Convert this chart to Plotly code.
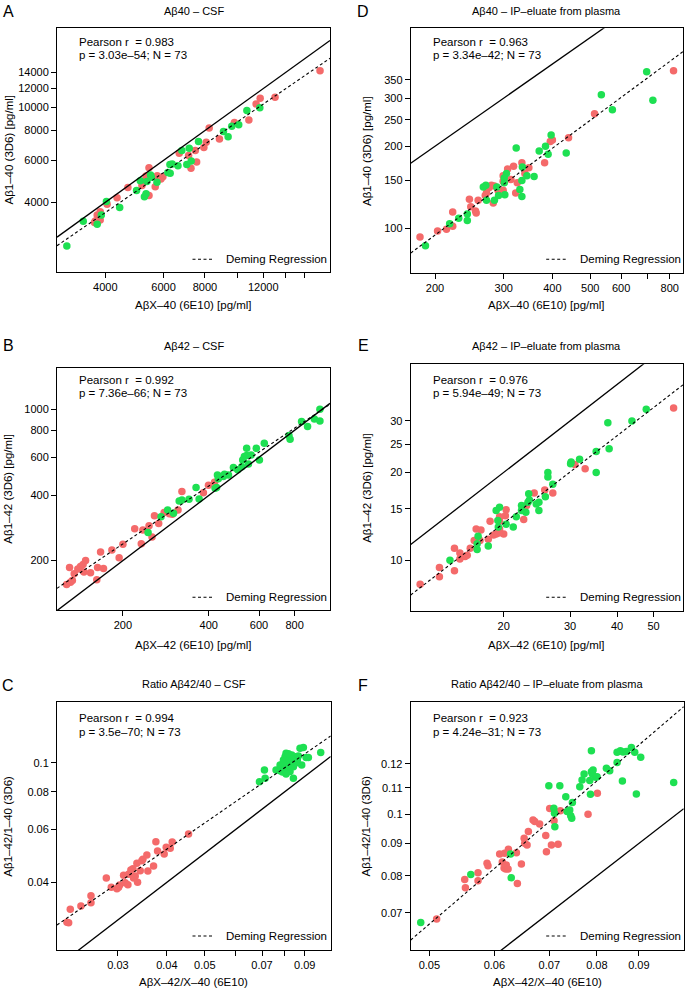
import numpy as np
import plotly.graph_objects as go

W, H = 687, 992
RED = "#F46A6A"
GREEN = "#1EE052"
FONT = "Liberation Sans, Arial, Helvetica, sans-serif"

# ---------------- data ----------------
# Panel A: Abeta40 - CSF
A_red_x = [17820, 13030, 11750, 11420, 10860, 9820, 8240, 8850, 8070, 7940, 7480, 7550, 7260, 7140, 6690, 5970, 5890, 5740, 5660, 5420, 5310, 5420, 5250, 5160, 4680, 4340, 4050, 3860, 3780, 3730, 3860, 3710]
A_red_y = [14260, 11030, 10920, 10350, 8860, 8640, 8200, 7380, 7140, 6800, 6590, 5910, 5560, 6280, 6420, 5120, 5010, 5170, 4650, 5590, 5160, 4270, 4920, 4700, 4610, 4180, 3930, 3650, 3540, 3340, 3370, 3290]
A_green_x = [11720, 10710, 10120, 9640, 9100, 9400, 7650, 7170, 6810, 7270, 7050, 6630, 6370, 6270, 6280, 6180, 5480, 5510, 5100, 5340, 5730, 4970, 5310, 5250, 4420, 4030, 3890, 3780, 3430, 3060]
A_green_y = [9980, 9700, 8470, 8330, 7920, 7540, 7190, 6740, 6590, 5960, 5770, 5700, 5790, 5760, 5290, 5340, 5210, 5090, 4930, 4890, 4850, 4480, 4340, 4220, 3800, 4030, 3540, 3240, 3330, 2620]

# Panel D: Abeta40 - IP-eluate from plasma
D_red_x = [818, 513, 440, 400, 395, 382, 348, 340, 334, 318, 313, 307, 322, 325, 299, 299, 299, 290, 284, 275, 279, 271, 269, 282, 258, 245, 247, 254, 255, 222, 222, 214, 203, 183]
D_red_y = [378, 263, 215, 211, 208, 174, 167, 159, 174, 169, 151, 165, 135, 147, 156, 149, 138, 138, 143, 141, 144, 135, 132, 124, 127, 128, 120, 116, 114, 115, 102, 99.4, 98, 93]
D_green_x = [698, 724, 534, 570, 397, 384, 390, 370, 434, 359, 344, 335, 334, 323, 330, 334, 305, 301, 301, 302, 288, 291, 284, 266, 270, 271, 242, 242, 230, 218, 189]
D_green_y = [375, 295, 309, 272, 220, 200, 187, 192, 189, 155, 156, 168, 150, 197, 139, 131, 159, 153, 147, 133, 142, 132, 127, 142, 144, 127, 113, 107, 109, 104, 86.4]

# Panel B: Abeta42 - CSF
B_red_x = [130, 127, 131, 133, 135, 139, 142, 145, 148, 146, 154, 163, 162, 171, 167, 183, 200, 194, 220, 232, 235, 247, 253, 258, 267, 279, 291, 298, 312, 322, 383, 399, 419]
B_red_y = [186, 155, 159, 162, 174, 183, 188, 192, 200, 177, 176, 186, 163, 184, 219, 224, 238, 206, 281, 239, 277, 290, 257, 322, 297, 334, 329, 327, 343, 417, 412, 446, 460]
B_green_x = [981, 938, 981, 846, 888, 764, 771, 626, 587, 543, 543, 563, 533, 526, 551, 522, 602, 488, 505, 450, 469, 454, 429, 432, 426, 421, 438, 361, 370, 322, 315, 341, 301, 287, 272, 245]
B_green_y = [1000, 902, 883, 877, 832, 756, 727, 697, 661, 661, 611, 615, 605, 583, 559, 543, 583, 538, 525, 489, 497, 501, 497, 478, 435, 432, 489, 435, 385, 381, 377, 384, 331, 343, 319, 270]

# Panel E: Abeta42 - IP-eluate from plasma
E_red_x = [56.5, 32.9, 30.9, 27.0, 25.7, 24.1, 23.0, 22.6, 20.3, 20.2, 20.0, 19.5, 19.5, 19.5, 19.4, 19.1, 18.8, 18.4, 18.2, 17.3, 17.4, 16.9, 16.7, 16.3, 16.0, 15.8, 15.5, 15.3, 15.3, 14.8, 13.5, 13.5, 14.8, 12.0]
E_red_y = [33.2, 20.6, 21.3, 17.0, 17.4, 17.0, 15.4, 13.8, 14.9, 14.2, 12.3, 14.1, 13.6, 12.8, 12.4, 12.3, 12.2, 13.6, 11.8, 11.7, 12.7, 12.8, 11.7, 11.0, 10.4, 10.3, 10.3, 10.1, 10.6, 11.0, 9.46, 8.79, 9.22, 8.28]
E_green_x = [47.8, 43.8, 37.8, 38.1, 35.2, 35.2, 31.8, 30.2, 30.1, 27.0, 26.2, 26.2, 25.8, 24.8, 24.4, 24.8, 23.3, 23.4, 23.2, 22.9, 22.3, 22.3, 21.6, 21.2, 20.3, 19.5, 19.3, 19.35, 19.1, 18.2, 17.1, 17.0, 17.0, 14.4]
E_green_y = [32.9, 30.0, 29.6, 24.1, 23.6, 20.0, 22.2, 21.7, 21.4, 18.2, 20.0, 19.3, 16.5, 15.8, 15.6, 14.8, 16.9, 16.1, 15.8, 14.6, 15.4, 14.8, 14.1, 13.0, 13.3, 15.2, 13.7, 13.0, 14.8, 11.2, 12.1, 10.9, 11.4, 10.0]

# Panel C: Ratio Abeta42/40 - CSF
C_red_x = [0.02245, 0.02223, 0.02267, 0.02413, 0.02560, 0.02560, 0.02802, 0.02885, 0.02982, 0.03030, 0.03101, 0.03131, 0.03181, 0.03193, 0.03276, 0.03289, 0.03321, 0.03354, 0.03367, 0.03420, 0.03453, 0.03474, 0.03556, 0.03577, 0.03699, 0.03750, 0.03787, 0.03938, 0.03985, 0.04080, 0.04128, 0.04544, 0.03237, 0.03012]
C_red_y = [0.02937, 0.02944, 0.03252, 0.03336, 0.03611, 0.03423, 0.04134, 0.03849, 0.03809, 0.03918, 0.04219, 0.03989, 0.03928, 0.04252, 0.04441, 0.04134, 0.04198, 0.04626, 0.04000, 0.04373, 0.04722, 0.04770, 0.04931, 0.04362, 0.04532, 0.05461, 0.05084, 0.04969, 0.05229, 0.05190, 0.05447, 0.05791, 0.04396, 0.03849]
C_green_x = [0.06896, 0.07129, 0.07100, 0.07603, 0.07862, 0.07784, 0.08063, 0.08126, 0.08017, 0.08095, 0.08175, 0.08253, 0.08337, 0.08418, 0.08502, 0.08584, 0.08841, 0.08754, 0.08927, 0.09194, 0.09886, 0.08253, 0.07939, 0.08141, 0.08418, 0.08617, 0.07894, 0.08337, 0.08017, 0.08253, 0.08584, 0.07784, 0.08175, 0.07925, 0.0837, 0.0867, 0.08063, 0.0907]
C_green_y = [0.08645, 0.08869, 0.09454, 0.09454, 0.09650, 0.09406, 0.1074, 0.1034, 0.1008, 0.0982, 0.09454, 0.0934, 0.0995, 0.08869, 0.1047, 0.1047, 0.0982, 0.1116, 0.1124, 0.1041, 0.1080, 0.1021, 0.1021, 0.0970, 0.0970, 0.1021, 0.0931, 0.1060, 0.1047, 0.0970, 0.1000, 0.0982, 0.1070, 0.0995, 0.1026, 0.1052, 0.0917, 0.1041]

# Panel F: Ratio Abeta42/40 - IP-eluate from plasma
F_red_x = [0.05103, 0.05521, 0.05532, 0.05731, 0.05731, 0.05878, 0.05894, 0.06090, 0.06135, 0.06176, 0.06166, 0.06194, 0.06241, 0.06205, 0.06235, 0.06383, 0.06400, 0.06473, 0.06534, 0.06523, 0.06577, 0.06601, 0.06688, 0.06720, 0.06813, 0.06931, 0.06944, 0.07008, 0.07042, 0.07094, 0.07175, 0.07221, 0.07804, 0.08011]
F_red_y = [0.06848, 0.07901, 0.07668, 0.08093, 0.07862, 0.08375, 0.08304, 0.08664, 0.08416, 0.08684, 0.08233, 0.08203, 0.0881, 0.08325, 0.08203, 0.08705, 0.07787, 0.08356, 0.09004, 0.09169, 0.08950, 0.09393, 0.09797, 0.09739, 0.09656, 0.09258, 0.08737, 0.1021, 0.08950, 0.09772, 0.08972, 0.1013, 0.1, 0.1079]
F_green_x = [0.04880, 0.05616, 0.06291, 0.06279, 0.06991, 0.07090, 0.07103, 0.07110, 0.07210, 0.07332, 0.07359, 0.07413, 0.07434, 0.07455, 0.07469, 0.07625, 0.07674, 0.07718, 0.07842, 0.07857, 0.07878, 0.07878, 0.07900, 0.07915, 0.07975, 0.08004, 0.08217, 0.08293, 0.08467, 0.08467, 0.08545, 0.08610, 0.08690, 0.08813, 0.08896, 0.09047, 0.08594, 0.08937, 0.09924]
F_green_y = [0.06759, 0.08045, 0.07949, 0.08664, 0.1109, 0.1022, 0.1004, 0.0956, 0.1109, 0.1066, 0.1010, 0.1016, 0.0995, 0.0986, 0.1044, 0.1105, 0.1132, 0.1157, 0.1130, 0.1075, 0.1167, 0.1258, 0.1157, 0.1174, 0.1143, 0.1146, 0.1181, 0.1171, 0.1206, 0.1252, 0.1258, 0.1253, 0.1255, 0.1274, 0.1252, 0.1229, 0.1128, 0.1076, 0.1122]

# Deming regression (log10 space): log10(y) = intercept + slope*log10(x)
deming_slope = {"A": 0.953, "D": 1.056, "B": 0.888, "E": 0.995, "C": 0.8994, "F": 1.102}
deming_intercept = {"A": 0.1264, "D": -0.454, "B": 0.335, "E": -0.1675, "C": -0.0303, "F": 0.2613}

pearson_r = {"A": "0.983", "D": "0.963", "B": "0.992", "E": "0.976", "C": "0.994", "F": "0.923"}
p_value = {"A": "3.03e–54", "D": "3.34e–42", "B": "7.36e–66", "E": "5.94e–49", "C": "3.5e–70", "F": "4.24e–31"}
n_obs = 73

titles = {"A": "Aβ40 – CSF", "D": "Aβ40 – IP–eluate from plasma",
          "B": "Aβ42 – CSF", "E": "Aβ42 – IP–eluate from plasma",
          "C": "Ratio Aβ42/40 – CSF", "F": "Ratio Aβ42/40 – IP–eluate from plasma"}
xlabels = {"A": "AβX–40 (6E10) [pg/ml]", "D": "AβX–40 (6E10) [pg/ml]",
           "B": "AβX–42 (6E10) [pg/ml]", "E": "AβX–42 (6E10) [pg/ml]",
           "C": "AβX–42/X–40 (6E10)", "F": "AβX–42/X–40 (6E10)"}
ylabels = {"A": "Aβ1–40 (3D6) [pg/ml]", "D": "Aβ1–40 (3D6) [pg/ml]",
           "B": "Aβ1–42 (3D6) [pg/ml]", "E": "Aβ1–42 (3D6) [pg/ml]",
           "C": "Aβ1–42/1–40 (3D6)", "F": "Aβ1–42/1–40 (3D6)"}

x_tickvals = {"A": [4000, 6000, 8000, 10000, 12000, 14000, 16000],
              "D": [200, 300, 400, 500, 600, 700, 800],
              "B": [200, 400, 600, 800],
              "E": [20, 30, 40, 50],
              "C": [0.03, 0.04, 0.05, 0.06, 0.07, 0.08, 0.09],
              "F": [0.05, 0.06, 0.07, 0.08, 0.09]}
x_ticktext = {"A": ["4000", "6000", "8000", "", "12000", "", ""],
              "D": ["200", "300", "400", "500", "600", "", "800"],
              "B": ["200", "400", "600", "800"],
              "E": ["20", "30", "40", "50"],
              "C": ["0.03", "0.04", "0.05", "", "0.07", "", "0.09"],
              "F": ["0.05", "0.06", "0.07", "0.08", "0.09"]}
y_tickvals = {"A": [4000, 6000, 8000, 10000, 12000, 14000],
              "D": [100, 150, 200, 250, 300, 350],
              "B": [200, 400, 600, 800, 1000],
              "E": [10, 15, 20, 25, 30],
              "C": [0.04, 0.06, 0.08, 0.1],
              "F": [0.07, 0.08, 0.09, 0.1, 0.11, 0.12]}
y_ticktext = {"A": ["4000", "6000", "8000", "10000", "12000", "14000"],
              "D": ["100", "150", "200", "250", "300", "350"],
              "B": ["200", "400", "600", "800", "1000"],
              "E": ["10", "15", "20", "25", "30"],
              "C": ["0.04", "0.06", "0.08", "0.1"],
              "F": ["0.07", "0.08", "0.09", "0.1", "0.11", "0.12"]}

data = {"A": (A_red_x, A_red_y, A_green_x, A_green_y),
        "D": (D_red_x, D_red_y, D_green_x, D_green_y),
        "B": (B_red_x, B_red_y, B_green_x, B_green_y),
        "E": (E_red_x, E_red_y, E_green_x, E_green_y),
        "C": (C_red_x, C_red_y, C_green_x, C_green_y),
        "F": (F_red_x, F_red_y, F_green_x, F_green_y)}

# ---------------- layout geometry (pixels) ----------------
order = ["A", "D", "B", "E", "C", "F"]
# log10 axis ranges
xrange_log = {"A": [3.456, 4.281], "D": [2.2386, 2.937], "B": [2.070, 3.027],
              "E": [1.0541, 1.777], "C": [-1.6785, -0.9795], "F": [-1.3238, -0.9911]}
yrange_log = {"A": [3.311, 4.332], "D": [1.837, 2.733], "B": [2.073, 3.189],
              "E": [0.8276, 1.671], "C": [-1.623, -0.7993], "F": [-1.2132, -0.824]}
# plot boxes: left, right, top, bottom
box = {"A": (57, 330, 28.3, 271.7), "D": (410.7, 683, 28.3, 273.0),
       "B": (57, 330, 368.3, 610.0), "E": (410.7, 683, 364.3, 610.7),
       "C": (57, 330.7, 702.3, 950.0), "F": (410.7, 683.7, 702.3, 950.0)}
row_of = {"A": 0, "D": 0, "B": 1, "E": 1, "C": 2, "F": 2}
col_of = {"A": 0, "D": 1, "B": 0, "E": 1, "C": 0, "F": 1}
title_y = [11, 346, 684]
letter_y = [12, 345, 685]
letter_x = [8, 363]
stat1_y = [41.7, 380, 718.3]
stat2_y = [55, 393.3, 731.7]
leg_y = [259.3, 597.3, 936]
xlab_y = [305, 645, 981.7]
ylab_x = [8.5, 366.3]


def px(x):
    return x / W


def py(y):
    return 1 - y / H


fig = go.Figure()
layout = dict(width=W, height=H, margin=dict(l=0, r=0, t=0, b=0),
              paper_bgcolor="white", plot_bgcolor="white", showlegend=False,
              font=dict(family=FONT, size=11, color="black"))
annotations = []
shapes = []

for i, k in enumerate(order):
    n = i + 1
    xa = "x" if n == 1 else f"x{n}"
    ya = "y" if n == 1 else f"y{n}"
    l, r, t, b = box[k]
    rx, ry, gx, gy = data[k]

    fig.add_trace(go.Scatter(x=rx, y=ry, mode="markers", xaxis=xa, yaxis=ya,
                             marker=dict(color=RED, size=7.5, line=dict(width=0))))
    fig.add_trace(go.Scatter(x=gx, y=gy, mode="markers", xaxis=xa, yaxis=ya,
                             marker=dict(color=GREEN, size=7.5, line=dict(width=0))))

    lx = np.array(xrange_log[k])
    xs = 10 ** lx
    # identity line
    fig.add_trace(go.Scatter(x=xs, y=xs, mode="lines", xaxis=xa, yaxis=ya,
                             line=dict(color="black", width=1.3)))
    # Deming regression line
    ys = 10 ** (deming_intercept[k] + deming_slope[k] * lx)
    fig.add_trace(go.Scatter(x=xs, y=ys, mode="lines", xaxis=xa, yaxis=ya,
                             line=dict(color="black", width=1.1, dash="3px,2.5px")))

    axis_common = dict(type="log", showgrid=False, zeroline=False, showline=True,
                       linecolor="black", linewidth=1, mirror=True, ticks="outside",
                       ticklen=5, tickwidth=1, tickcolor="black",
                       tickfont=dict(family=FONT, size=11, color="black"))
    layout["xaxis" if n == 1 else f"xaxis{n}"] = dict(
        axis_common, domain=[px(l), px(r)], range=xrange_log[k], anchor=ya,
        tickvals=x_tickvals[k], ticktext=x_ticktext[k])
    layout["yaxis" if n == 1 else f"yaxis{n}"] = dict(
        axis_common, domain=[py(b), py(t)], range=yrange_log[k], anchor=xa,
        tickvals=y_tickvals[k], ticktext=y_ticktext[k], tickangle=0)

    row, col = row_of[k], col_of[k]
    cx = (l + r) / 2
    cy = (t + b) / 2

    def ann(text, x, y, size=11, xanchor="center", yanchor="middle", angle=0):
        annotations.append(dict(text=text, x=px(x), y=py(y), xref="paper", yref="paper",
                                showarrow=False, xanchor=xanchor, yanchor=yanchor,
                                textangle=angle, font=dict(family=FONT, size=size, color="black")))

    ann(titles[k], cx, title_y[row], size=11)
    ann(k, letter_x[col], letter_y[row], size=16)
    ann(f"Pearson r \u00a0= {pearson_r[k]}", l + 20, stat1_y[row], size=11.5, xanchor="left")
    ann(f"p = {p_value[k]}; N = {n_obs}", l + 20, stat2_y[row], size=11.5, xanchor="left")
    ann("Deming Regression", l + 167, leg_y[row], size=11.5, xanchor="left")
    ann(xlabels[k], cx, xlab_y[row], size=11.5)
    ann(ylabels[k], ylab_x[col], cy, size=11.5, angle=-90)
    shapes.append(dict(type="line", xref="paper", yref="paper",
                       x0=px(l + 135.5), x1=px(l + 156.5), y0=py(leg_y[row]), y1=py(leg_y[row]),
                       line=dict(color="black", width=1.1, dash="3px,2.5px")))

layout["annotations"] = annotations
layout["shapes"] = shapes
fig.update_layout(**layout)
fig.write_html("out.html", config={"displayModeBar": False},
               post_script="document.body.style.margin='0px';document.body.style.overflow='hidden';")
